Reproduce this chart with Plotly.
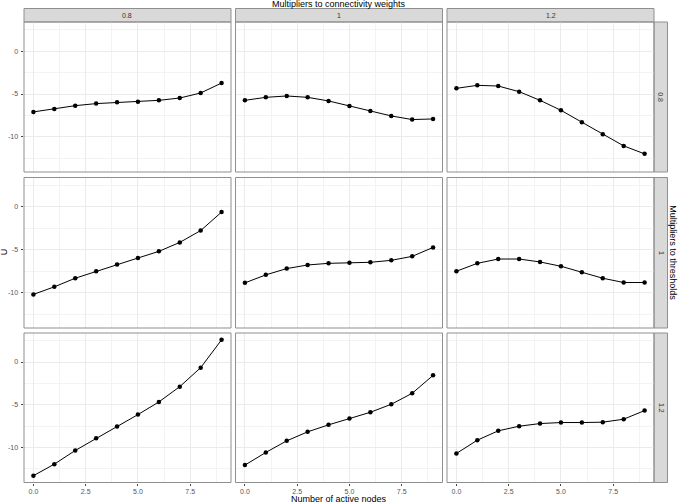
import plotly.graph_objects as go

W, H = 678, 503

# ---- data ----
nodes = [0, 1, 2, 3, 4, 5, 6, 7, 8, 9]
weight_levels = ["0.8", "1", "1.2"]        # columns (connectivity weights)
threshold_levels = ["0.8", "1", "1.2"]     # rows (thresholds)

u_t08_w08 = [-7.09, -6.74, -6.36, -6.12, -5.97, -5.89, -5.74, -5.47, -4.88, -3.72]
u_t08_w1 = [-5.74, -5.39, -5.23, -5.39, -5.81, -6.40, -6.98, -7.56, -7.98, -7.91]
u_t08_w12 = [-4.34, -3.99, -4.07, -4.73, -5.74, -6.90, -8.29, -9.69, -11.05, -11.98]
u_t1_w08 = [-10.19, -9.31, -8.31, -7.50, -6.73, -5.96, -5.19, -4.15, -2.77, -0.62]
u_t1_w1 = [-8.85, -7.92, -7.19, -6.77, -6.58, -6.50, -6.46, -6.23, -5.77, -4.73]
u_t1_w12 = [-7.50, -6.58, -6.08, -6.08, -6.42, -6.92, -7.62, -8.31, -8.81, -8.81]
u_t12_w08 = [-13.30, -11.95, -10.35, -8.91, -7.55, -6.15, -4.67, -2.88, -0.66, 2.60]
u_t12_w1 = [-12.06, -10.58, -9.22, -8.17, -7.35, -6.61, -5.88, -4.94, -3.66, -1.56]
u_t12_w12 = [-10.70, -9.14, -8.05, -7.51, -7.20, -7.08, -7.08, -7.04, -6.69, -5.68]

x_ticks = [0, 2.5, 5, 7.5]
x_tick_labels = ["0.0", "2.5", "5.0", "7.5"]
x_minor = [1.25, 3.75, 6.25, 8.75]
y_ticks = [-10, -5, 0]
y_tick_labels = ["-10", "-5", "0"]
y_minor = [-12.5, -7.5, -2.5, 2.5]

series = [
    [u_t08_w08, u_t08_w1, u_t08_w12],
    [u_t1_w08, u_t1_w1, u_t1_w12],
    [u_t12_w08, u_t12_w1, u_t12_w12],
]

# ---- layout geometry (pixels) ----
col_px = [(24, 231), (235.5, 442.5), (447, 654)]
row_px = [(22, 172), (177.5, 328), (333, 482.5)]
strip_top = (8.5, 22)
strip_right = (654, 667.5)

allv = [v for row in series for s in row for v in s]
span = max(allv) - min(allv)
y_range = [min(allv) - 0.05 * span, max(allv) + 0.05 * span]
xspan = max(nodes) - min(nodes)
x_range = [min(nodes) - 0.05 * xspan, max(nodes) + 0.05 * xspan]

FONT = "Liberation Sans, Arial, sans-serif"
GRID = "#EBEBEB"
MINOR = "#F3F3F3"
BORDER = "#8F8F8F"

fig = go.Figure()
layout = dict(
    width=W, height=H, margin=dict(l=0, r=0, t=0, b=0),
    paper_bgcolor="white", plot_bgcolor="white", showlegend=False,
    font=dict(family=FONT, color="#4D4D4D"),
)
shapes = []
annotations = []

for r in range(3):
    for c in range(3):
        idx = r * 3 + c + 1
        sfx = "" if idx == 1 else str(idx)
        x0, x1 = col_px[c]
        y0, y1 = row_px[r]
        bottom = (r == 2)
        left = (c == 0)
        layout["xaxis" + sfx] = dict(
            domain=[x0 / W, x1 / W], anchor="y" + sfx, range=x_range,
            tickvals=x_ticks, ticktext=x_tick_labels, showticklabels=bottom,
            ticks="outside" if bottom else "", ticklen=2.5, tickwidth=0.8, tickcolor="#444",
            ticklabelstandoff=0,
            tickfont=dict(size=7, color="#555"),
            showgrid=True, gridcolor=GRID, gridwidth=0.8, zeroline=False, showline=False,
            minor=dict(tickvals=x_minor, showgrid=True, gridcolor=MINOR, gridwidth=0.5, ticks=""),
        )
        layout["yaxis" + sfx] = dict(
            domain=[1 - y1 / H, 1 - y0 / H], anchor="x" + sfx, range=y_range,
            tickvals=y_ticks, ticktext=y_tick_labels, showticklabels=left,
            ticks="outside" if left else "", ticklen=2.5, tickwidth=0.8, tickcolor="#444",
            ticklabelstandoff=1,
            tickfont=dict(size=7, color="#555"),
            showgrid=True, gridcolor=GRID, gridwidth=0.8, zeroline=False, showline=False,
            minor=dict(tickvals=y_minor, showgrid=True, gridcolor=MINOR, gridwidth=0.5, ticks=""),
        )
        fig.add_trace(go.Scatter(
            x=nodes, y=series[r][c], mode="lines+markers",
            line=dict(color="black", width=1),
            marker=dict(color="black", size=4.5),
            xaxis="x" + sfx, yaxis="y" + sfx,
        ))
        # panel border
        shapes.append(dict(type="rect", xref="paper", yref="paper",
                           x0=x0 / W, x1=x1 / W, y0=1 - y1 / H, y1=1 - y0 / H,
                           line=dict(color=BORDER, width=1), layer="above"))

# top strips
for c in range(3):
    x0, x1 = col_px[c]
    shapes.append(dict(type="rect", xref="paper", yref="paper",
                       x0=x0 / W, x1=x1 / W, y0=1 - strip_top[1] / H, y1=1 - strip_top[0] / H,
                       fillcolor="#D9D9D9", line=dict(color=BORDER, width=1), layer="below"))
    annotations.append(dict(xref="paper", yref="paper", x=(x0 + x1) / 2 / W,
                            y=1 - (strip_top[0] + strip_top[1]) / 2 / H,
                            text=weight_levels[c], showarrow=False,
                            font=dict(size=7, color="#333"), xanchor="center", yanchor="middle"))
# right strips
for r in range(3):
    y0, y1 = row_px[r]
    shapes.append(dict(type="rect", xref="paper", yref="paper",
                       x0=strip_right[0] / W, x1=strip_right[1] / W, y0=1 - y1 / H, y1=1 - y0 / H,
                       fillcolor="#D9D9D9", line=dict(color=BORDER, width=1), layer="below"))
    annotations.append(dict(xref="paper", yref="paper", x=(strip_right[0] + strip_right[1]) / 2 / W,
                            y=1 - (y0 + y1) / 2 / H, text=threshold_levels[r], showarrow=False,
                            textangle=90, font=dict(size=7, color="#333"),
                            xanchor="center", yanchor="middle"))

cx = (col_px[0][0] + col_px[2][1]) / 2 / W
cy = 1 - (row_px[0][0] + row_px[2][1]) / 2 / H
annotations += [
    dict(xref="paper", yref="paper", x=cx, y=1 - 4.0 / H, text="Multipliers to connectivity weights",
         showarrow=False, font=dict(size=9, color="black"), xanchor="center", yanchor="middle"),
    dict(xref="paper", yref="paper", x=cx, y=0, text="Number of active nodes",
         showarrow=False, font=dict(size=9, color="black"), xanchor="center", yanchor="bottom",
         borderpad=0, yshift=-2),
    dict(xref="paper", yref="paper", x=4 / W, y=cy, text="U", textangle=-90,
         showarrow=False, font=dict(size=9, color="black"), xanchor="center", yanchor="middle"),
    dict(xref="paper", yref="paper", x=673 / W, y=cy, text="Multipliers to thresholds", textangle=90,
         showarrow=False, font=dict(size=9, color="black"), xanchor="center", yanchor="middle"),
]

layout["shapes"] = shapes
layout["annotations"] = annotations
fig.update_layout(**layout)
fig.write_html("out.html")
